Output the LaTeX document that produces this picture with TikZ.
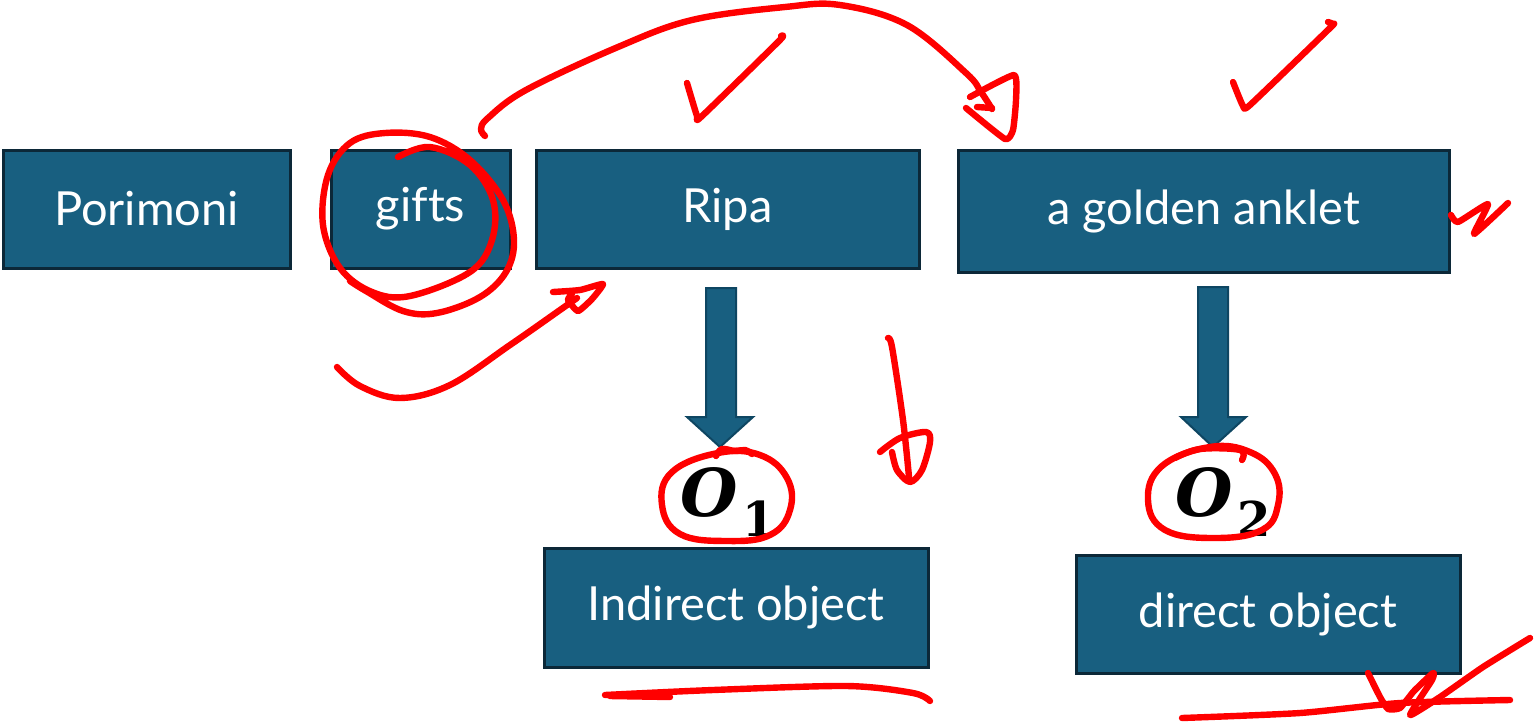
\documentclass[tikz,border=0pt]{standalone}
\usepackage{fontspec}
\newfontfamily\boxfont[Ligatures=NoCommon]{Lato}
\newfontfamily\ofont{DejaVu Serif}
\definecolor{boxfill}{RGB}{24,95,128}
\definecolor{boxline}{RGB}{12,40,56}
\definecolor{arrline}{RGB}{14,70,98}
\definecolor{ink}{RGB}{255,0,0}
\newcommand{\olab}[1]{{\bfseries\itshape O}\hspace{0.06em}\raisebox{-0.3em}{\fontsize{24}{28}\selectfont\bfseries #1}}
\tikzset{
  box/.style={draw=boxline, line width=1.5pt, fill=boxfill, text=white,
    font=\boxfont\fontsize{23.5}{27}\selectfont, inner sep=0pt},
  blockarrow/.style={draw=arrline, line width=1pt, fill=boxfill, line join=miter},
  annot/.style={draw=ink, line width=3.2pt, line cap=round, line join=round},
  olabel/.style={inner sep=0pt, font=\ofont\fontsize{33}{38}\selectfont}
}
\begin{document}
\begin{tikzpicture}[x=0.5pt,y=-0.5pt]
\useasboundingbox (0,0) rectangle (1536,724);
\fill[white] (0,0) rectangle (1536,724);
% boxes
\node[box, minimum width=143.5pt, minimum height=59pt] (por) at (146.5,209) {Porimoni};
\node[box, minimum width=89.5pt, minimum height=59pt] (gifts) at (420.5,209) {gifts};
\node[box, minimum width=191.5pt, minimum height=59pt] (ripa) at (727.5,209) {Ripa};
\node[box, minimum width=245.5pt, minimum height=61pt] (anklet) at (1203.5,211) {a golden anklet};
\node[box, minimum width=192pt, minimum height=59.5pt] (ind) at (736,607.5) {Indirect object};
\node[box, minimum width=192pt, minimum height=59pt] (dir) at (1268,614) {direct object};
% labels
\node[olabel] (o1) at (728,502) {\olab{1}};
\node[olabel] (o2) at (1223,502) {\olab{2}};
% block arrows
\draw[blockarrow] (706,288) -- (736,288) -- (736,417) -- (753,417) -- (720,447)
  -- (687,417) -- (706,417) -- cycle;
\draw[blockarrow] (1198,287) -- (1228,287) -- (1228,417) -- (1246,417) -- (1213,447)
  -- (1181,417) -- (1198,417) -- cycle;
% ---- red annotations ----
% spiral round "gifts"
\draw[annot] plot[smooth, tension=0.6] coordinates {(398,157) (430,147) (470,165) (493,200) (492,240) (470,272) (410,296) (372,292) (340,268) (323,225) (328,175) (350,143) (385,133) (430,137) (470,160) (503,200) (514,240) (506,272) (480,297) (437,313) (403,311) (366,291) (350,281)};
% big top arrow
\draw[annot] plot[smooth, tension=0.6] coordinates {(485,136) (481,129) (488,118) (526,90) (618,47) (692,20) (785,7) (840,5) (907,25) (966,73) (981,92) (992,109)};
\draw[annot] (977,107) -- (992,108);
\draw[annot] plot[smooth, tension=0.3] coordinates {(970,97) (1014,75) (1016,100) (1013,130) (1005,139) (966,108)};
% check marks
\draw[annot] plot[smooth, tension=0.3] coordinates {(687,83) (697,116) (701,117) (780,40) (781,36)};
\draw[annot] plot[smooth, tension=0.3] coordinates {(1233,82) (1243,106) (1250,105) (1330,28) (1333,24) (1328,22)};
% mark right of anklet
\draw[annot] plot[smooth, tension=0.3] coordinates {(1451,215) (1458,222) (1488,204) (1474,234) (1508,203)};
% lower-left arrow
\draw[annot] plot[smooth, tension=0.6] coordinates {(337,367) (360,386) (400,398) (450,385) (510,345) (560,310) (577,298)};
\draw[annot] plot[smooth, tension=0.3] coordinates {(553,292) (580,290) (603,284) (592,299) (578,311) (568,300) (572,294)};
% stroke right of O1
\draw[annot] plot[smooth, tension=0.5] coordinates {(888,338) (892,347) (903,420) (909,477)};
\draw[annot] plot[smooth, tension=0.5] coordinates {(880,452) (900,438) (926,432) (930,442) (922,470) (910,482) (897,470) (892,452)};
% circles round O1 and O2
\draw[annot] plot[smooth cycle, tension=0.7] coordinates {(718,453) (760,455) (787,478) (790,510) (770,535) (727,541) (680,534) (662,505) (672,472)};
\draw[annot] plot[smooth, tension=0.6] coordinates {(716,456) (722,449) (735,451) (745,450) (752,454)};
\draw[annot] plot[smooth cycle, tension=0.7] coordinates {(1210,447) (1250,452) (1275,474) (1278,505) (1262,530) (1215,538) (1165,530) (1148,500) (1162,466)};
\draw[annot] plot[smooth, tension=0.6] coordinates {(1175,458) (1200,449) (1240,450) (1242,460)};
% underline Indirect object
\draw[annot] plot[smooth, tension=0.5] coordinates {(605,695) (713,690) (847,686) (913,693) (930,701)};
\draw[annot] (610,696) -- (670,697);
% marks under direct object
\draw[annot] plot[smooth, tension=0.4] coordinates {(1182,718) (1300,713) (1400,703) (1510,700)};
\draw[annot] plot[smooth, tension=0.3] coordinates {(1368,673) (1380,697) (1388,709) (1400,708) (1414,691) (1433,673) (1432,680) (1410,715) (1440,697) (1483,667) (1530,638)};
\end{tikzpicture}
\end{document}
